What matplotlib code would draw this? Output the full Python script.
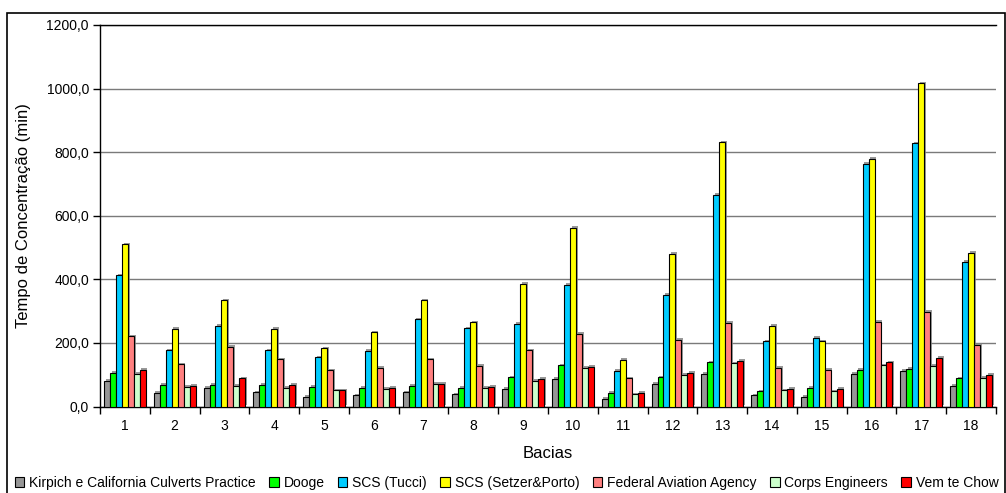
import matplotlib
matplotlib.use("Agg")
import matplotlib.pyplot as plt
import matplotlib.patheffects as pe
from matplotlib.patches import Rectangle
from matplotlib.ticker import FuncFormatter, MultipleLocator
import numpy as np

plt.rcParams['font.family'] = ['Liberation Sans', 'DejaVu Sans']

bacias = [str(i) for i in range(1, 19)]

series_names = [
    "Kirpich e California Culverts Practice",
    "Dooge",
    "SCS (Tucci)",
    "SCS (Setzer&Porto)",
    "Federal Aviation Agency",
    "Corps Engineers",
    "Vem te Chow",
]
series_colors = ["#969696", "#00FF00", "#00CCFF", "#FFFF00", "#FF8080", "#CCFFCC", "#FF0000"]

kirpich = [80, 42, 59, 45, 31, 35, 45, 38, 55, 86, 25, 71, 103, 35, 31, 103, 113, 66]
dooge = [106, 68, 68, 68, 61, 59, 66, 59, 92, 130, 42, 92, 139, 48, 59, 116, 119, 89]
scs_tucci = [413, 177, 253, 177, 155, 175, 274, 246, 259, 382, 113, 351, 665, 205, 215, 764, 828, 454]
scs_setzer = [510, 245, 334, 245, 183, 233, 334, 265, 386, 563, 147, 481, 831, 253, 205, 780, 1017, 484]
faa = [221, 133, 187, 148, 114, 121, 148, 127, 177, 229, 89, 209, 263, 121, 116, 266, 297, 195]
corps = [103, 62, 65, 59, 51, 55, 71, 59, 80, 121, 38, 99, 136, 51, 48, 130, 127, 90]
ven_te_chow = [116, 65, 89, 68, 51, 59, 71, 62, 86, 124, 42, 105, 143, 55, 55, 139, 154, 99]

all_series = [kirpich, dooge, scs_tucci, scs_setzer, faa, corps, ven_te_chow]

fig = plt.figure(figsize=(10.06, 4.93), dpi=100)
ax = fig.add_axes([100 / 1006, 1 - 406.5 / 493, 896 / 1006, 381.5 / 493])

n = len(all_series)
x = np.arange(len(bacias))
group_w = 0.84
bw = group_w / n
shadow = [pe.SimplePatchShadow(offset=(1.2, 1.2), shadow_rgbFace="#808080", alpha=0.8), pe.Normal()]

for i, (vals, name, col) in enumerate(zip(all_series, series_names, series_colors)):
    pos = x - group_w / 2 + bw * (i + 0.5)
    bars = ax.bar(pos, vals, width=bw, color=col, edgecolor="black", linewidth=0.8,
                  label=name, zorder=3)
    for b in bars:
        b.set_path_effects(shadow)

ax.set_xlim(-0.5, len(bacias) - 0.5)
ax.set_ylim(0, 1200)
ax.yaxis.set_major_locator(MultipleLocator(200))
ax.yaxis.set_major_formatter(FuncFormatter(lambda v, p: f"{v:.1f}".replace(".", ",")))
ax.grid(axis="y", color="#7a7a7a", linewidth=1.0, zorder=0)
ax.set_axisbelow(True)

ax.set_xticks(x)
ax.set_xticklabels(bacias)
ax.set_xticks(np.arange(-0.5, len(bacias), 1.0), minor=True)
ax.tick_params(axis="x", which="major", length=0, pad=9, labelsize=10)
ax.tick_params(axis="x", which="minor", length=5, width=1, direction="out")
ax.tick_params(axis="y", length=5, width=1, direction="out", labelsize=10, pad=3)

for s in ["top", "right"]:
    ax.spines[s].set_visible(False)
for s in ["left", "bottom"]:
    ax.spines[s].set_linewidth(1.0)
    ax.spines[s].set_color("black")
ax.axhline(1200, color="black", linewidth=1.0, zorder=1, clip_on=False)

ax.set_ylabel("Tempo de Concentração (min)", fontsize=12, labelpad=11)
ax.set_xlabel("Bacias", fontsize=12, labelpad=9)

handles, labels = ax.get_legend_handles_labels()
leg = fig.legend(handles, labels, loc="lower left", bbox_to_anchor=(9 / 1006, -0.005),
                 ncol=7, frameon=False, fontsize=10, handlelength=0.7, handleheight=0.7,
                 handletextpad=0.35, columnspacing=0.95, borderaxespad=0)
for h in leg.legend_handles:
    h.set_path_effects([])
    h.set_linewidth(0.8)

fig.add_artist(Rectangle((7 / 1006, -0.02), 998 / 1006, 1.02 - 13 / 493,
                         transform=fig.transFigure, fill=False, edgecolor="black",
                         linewidth=1.2))

fig.savefig("out.png", dpi=100)
